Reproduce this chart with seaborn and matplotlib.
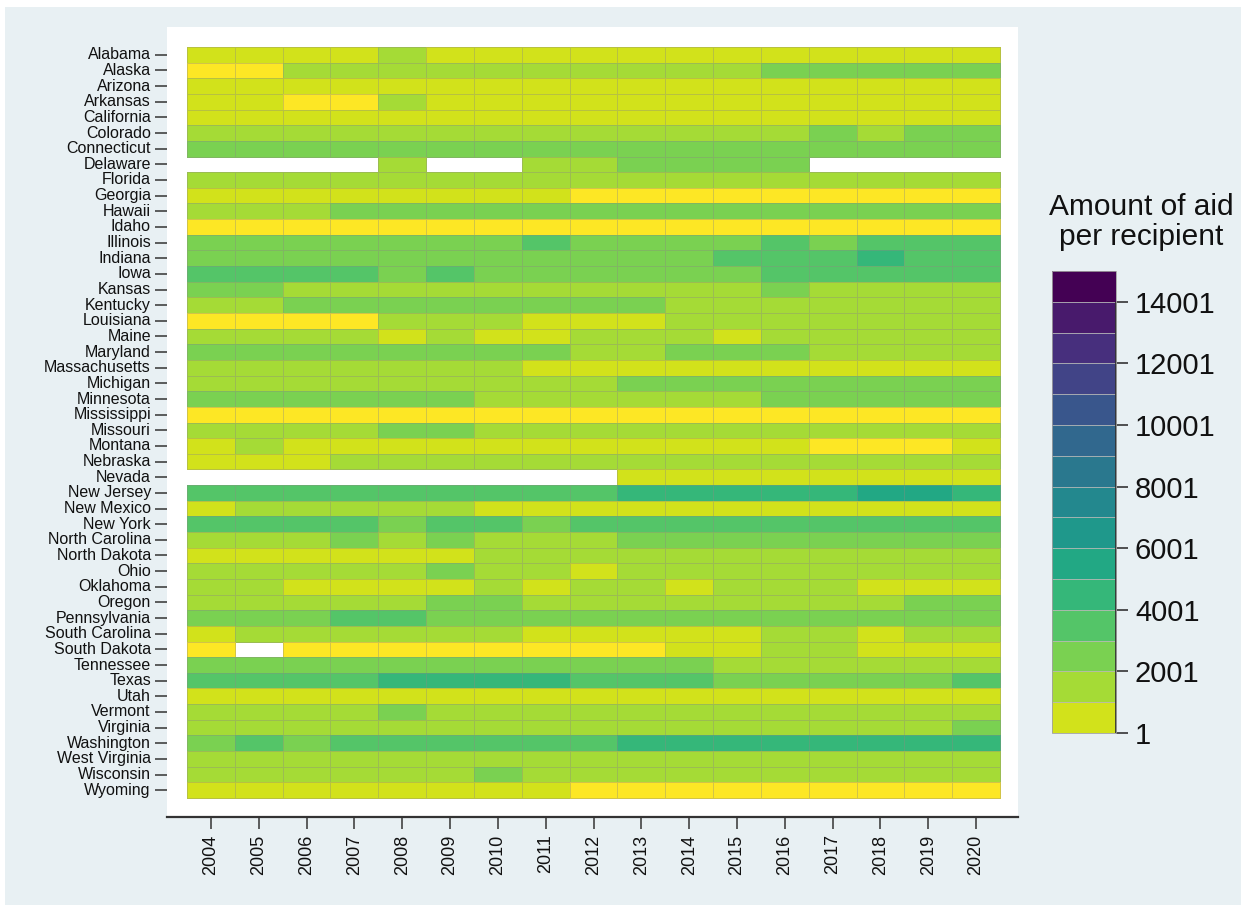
import numpy as np
import pandas as pd
import matplotlib
matplotlib.use("Agg")
import matplotlib.pyplot as plt
import matplotlib.patches as mpatches
from matplotlib.colors import ListedColormap, BoundaryNorm
from matplotlib.cm import ScalarMappable
from matplotlib.ticker import NullLocator
import seaborn as sns

# ---------------- data (NaN = no data) ----------------
years = [2004, 2005, 2006, 2007, 2008, 2009, 2010, 2011, 2012,
         2013, 2014, 2015, 2016, 2017, 2018, 2019, 2020]

states = ["Alabama", "Alaska", "Arizona", "Arkansas", "California", "Colorado",
          "Connecticut", "Delaware", "Florida", "Georgia", "Hawaii", "Idaho",
          "Illinois", "Indiana", "Iowa", "Kansas", "Kentucky", "Louisiana",
          "Maine", "Maryland", "Massachusetts", "Michigan", "Minnesota",
          "Mississippi", "Missouri", "Montana", "Nebraska", "Nevada",
          "New Jersey", "New Mexico", "New York", "North Carolina",
          "North Dakota", "Ohio", "Oklahoma", "Oregon", "Pennsylvania",
          "South Carolina", "South Dakota", "Tennessee", "Texas", "Utah",
          "Vermont", "Virginia", "Washington", "West Virginia", "Wisconsin",
          "Wyoming"]

N = np.nan
aid_per_recipient = [
    [600, 600, 600, 600, 1500, 600, 600, 600, 600, 600, 600, 600, 600, 600, 600, 600, 600],        # Alabama
    [0, 0, 1500, 1500, 1500, 1500, 1500, 1500, 1500, 1500, 1500, 1500, 2500, 2500, 2500, 2500, 2500],  # Alaska
    [600, 600, 600, 600, 600, 600, 600, 600, 600, 600, 600, 600, 600, 600, 600, 600, 600],         # Arizona
    [600, 600, 0, 0, 1500, 600, 600, 600, 600, 600, 600, 600, 600, 600, 600, 600, 600],            # Arkansas
    [600, 600, 600, 600, 600, 600, 600, 600, 600, 600, 600, 600, 600, 600, 600, 600, 600],         # California
    [1500, 1500, 1500, 1500, 1500, 1500, 1500, 1500, 1500, 1500, 1500, 1500, 1500, 2500, 1500, 2500, 2500],  # Colorado
    [2500, 2500, 2500, 2500, 2500, 2500, 2500, 2500, 2500, 2500, 2500, 2500, 2500, 2500, 2500, 2500, 2500],  # Connecticut
    [N, N, N, N, 1500, N, N, 1500, 1500, 2500, 2500, 2500, 2500, N, N, N, N],                       # Delaware
    [1500, 1500, 1500, 1500, 1500, 1500, 1500, 1500, 1500, 1500, 1500, 1500, 1500, 1500, 1500, 1500, 1500],  # Florida
    [600, 600, 600, 600, 600, 600, 600, 600, 0, 0, 0, 0, 0, 0, 0, 0, 0],                           # Georgia
    [1500, 1500, 1500, 2500, 2500, 2500, 2500, 2500, 2500, 2500, 2500, 2500, 2500, 2500, 2500, 2500, 2500],  # Hawaii
    [0, 0, 0, 0, 0, 0, 0, 0, 0, 0, 0, 0, 0, 0, 0, 0, 0],                                           # Idaho
    [2500, 2500, 2500, 2500, 2500, 2500, 2500, 3500, 2500, 2500, 2500, 2500, 3500, 2500, 3500, 3500, 3500],  # Illinois
    [2500, 2500, 2500, 2500, 2500, 2500, 2500, 2500, 2500, 2500, 2500, 3500, 3500, 3500, 4500, 3500, 3500],  # Indiana
    [3500, 3500, 3500, 3500, 2500, 3500, 2500, 2500, 2500, 2500, 2500, 2500, 3500, 3500, 3500, 3500, 3500],  # Iowa
    [2500, 2500, 1500, 1500, 1500, 1500, 1500, 1500, 1500, 1500, 1500, 1500, 2500, 1500, 1500, 1500, 1500],  # Kansas
    [1500, 1500, 2500, 2500, 2500, 2500, 2500, 2500, 2500, 2500, 1500, 1500, 1500, 1500, 1500, 1500, 1500],  # Kentucky
    [0, 0, 0, 0, 1500, 1500, 1500, 600, 600, 600, 1500, 1500, 1500, 1500, 1500, 1500, 1500],       # Louisiana
    [1500, 1500, 1500, 1500, 600, 1500, 600, 600, 1500, 1500, 1500, 600, 1500, 1500, 1500, 1500, 1500],  # Maine
    [2500, 2500, 2500, 2500, 2500, 2500, 2500, 2500, 1500, 1500, 2500, 2500, 2500, 1500, 1500, 1500, 1500],  # Maryland
    [1500, 1500, 1500, 1500, 1500, 1500, 1500, 600, 600, 600, 600, 600, 600, 600, 600, 600, 600],  # Massachusetts
    [1500, 1500, 1500, 1500, 1500, 1500, 1500, 1500, 1500, 2500, 2500, 2500, 2500, 2500, 2500, 2500, 2500],  # Michigan
    [2500, 2500, 2500, 2500, 2500, 2500, 1500, 1500, 1500, 1500, 1500, 1500, 2500, 2500, 2500, 2500, 2500],  # Minnesota
    [0, 0, 0, 0, 0, 0, 0, 0, 0, 0, 0, 0, 0, 0, 0, 0, 0],                                           # Mississippi
    [1500, 1500, 1500, 1500, 2500, 2500, 1500, 1500, 1500, 1500, 1500, 1500, 1500, 1500, 1500, 1500, 1500],  # Missouri
    [600, 1500, 600, 600, 600, 600, 600, 600, 600, 600, 600, 600, 600, 0, 0, 0, 600],              # Montana
    [600, 600, 600, 1500, 1500, 1500, 1500, 1500, 1500, 1500, 1500, 1500, 1500, 1500, 1500, 1500, 1500],  # Nebraska
    [N, N, N, N, N, N, N, N, N, 600, 600, 600, 600, 600, 600, 600, 600],                            # Nevada
    [3500, 3500, 3500, 3500, 3500, 3500, 3500, 3500, 3500, 4500, 4500, 4500, 4500, 4500, 5500, 5500, 4500],  # New Jersey
    [600, 1500, 1500, 1500, 1500, 1500, 600, 600, 600, 600, 600, 600, 600, 600, 600, 600, 600],    # New Mexico
    [3500, 3500, 3500, 3500, 2500, 3500, 3500, 2500, 3500, 3500, 3500, 3500, 3500, 3500, 3500, 3500, 3500],  # New York
    [1500, 1500, 1500, 2500, 1500, 2500, 1500, 1500, 1500, 2500, 2500, 2500, 2500, 2500, 2500, 2500, 2500],  # North Carolina
    [600, 600, 600, 600, 600, 600, 1500, 1500, 1500, 1500, 1500, 1500, 1500, 1500, 1500, 1500, 1500],  # North Dakota
    [1500, 1500, 1500, 1500, 1500, 2500, 1500, 1500, 600, 1500, 1500, 1500, 1500, 1500, 1500, 1500, 1500],  # Ohio
    [1500, 1500, 600, 600, 600, 600, 1500, 600, 1500, 1500, 600, 1500, 1500, 1500, 600, 600, 600],  # Oklahoma
    [1500, 1500, 1500, 1500, 1500, 2500, 2500, 1500, 1500, 1500, 1500, 1500, 1500, 1500, 1500, 2500, 2500],  # Oregon
    [2500, 2500, 2500, 3500, 3500, 2500, 2500, 2500, 2500, 2500, 2500, 2500, 2500, 2500, 2500, 2500, 2500],  # Pennsylvania
    [600, 1500, 1500, 1500, 1500, 1500, 1500, 600, 600, 600, 600, 600, 1500, 1500, 600, 1500, 1500],  # South Carolina
    [0, N, 0, 0, 0, 0, 0, 0, 0, 0, 600, 600, 1500, 1500, 600, 600, 600],                           # South Dakota
    [2500, 2500, 2500, 2500, 2500, 2500, 2500, 2500, 2500, 2500, 2500, 1500, 1500, 1500, 1500, 1500, 1500],  # Tennessee
    [3500, 3500, 3500, 3500, 4500, 4500, 4500, 4500, 3500, 3500, 3500, 2500, 2500, 2500, 2500, 2500, 3500],  # Texas
    [600, 600, 600, 600, 600, 600, 600, 600, 600, 600, 600, 600, 600, 600, 600, 600, 600],         # Utah
    [1500, 1500, 1500, 1500, 2500, 1500, 1500, 1500, 1500, 1500, 1500, 1500, 1500, 1500, 1500, 1500, 1500],  # Vermont
    [1500, 1500, 1500, 1500, 1500, 1500, 1500, 1500, 1500, 1500, 1500, 1500, 1500, 1500, 1500, 1500, 2500],  # Virginia
    [2500, 3500, 2500, 3500, 3500, 3500, 3500, 3500, 3500, 4500, 4500, 4500, 4500, 4500, 4500, 4500, 4500],  # Washington
    [1500, 1500, 1500, 1500, 1500, 1500, 1500, 1500, 1500, 1500, 1500, 1500, 1500, 1500, 1500, 1500, 1500],  # West Virginia
    [1500, 1500, 1500, 1500, 1500, 1500, 2500, 1500, 1500, 1500, 1500, 1500, 1500, 1500, 1500, 1500, 1500],  # Wisconsin
    [600, 600, 600, 600, 600, 600, 600, 600, 0, 0, 0, 0, 0, 0, 0, 0, 0],                           # Wyoming
]

cbar_ticks = [1, 2001, 4001, 6001, 8001, 10001, 12001, 14001]
cbar_title = "Amount of aid\nper recipient"

# ---------------- styling ----------------
sns.set_theme(style="white")
plt.rcParams['font.family'] = ['Liberation Sans', 'DejaVu Sans']

W, H = 1246, 911
fig = plt.figure(figsize=(W / 100, H / 100), dpi=100)
fig.patch.set_facecolor('white')
fig.patches.append(mpatches.Rectangle((5 / W, 1 - 905 / H), 1236 / W, 898 / H,
                                      transform=fig.transFigure, facecolor='#e8f0f3',
                                      edgecolor='none', zorder=-10))

# colour scale: 16 viridis steps, brightest for values below 1
vir = plt.get_cmap('viridis', 16)
colors = [vir(i) for i in range(16)][::-1]
cmap = ListedColormap(colors)
bounds = [-1000, 1] + [1 + 1000 * k for k in range(1, 16)]
norm = BoundaryNorm(bounds, cmap.N)

df = pd.DataFrame(aid_per_recipient, index=states, columns=years)
nrows, ncols = df.shape

ax = fig.add_axes([167 / W, 1 - 817 / H, (1018 - 167) / W, (817 - 27) / H])
ax.set_facecolor('white')
grid_rgba = (0.55, 0.55, 0.5, 0.38)
sns.heatmap(df, ax=ax, cmap=cmap, norm=norm, cbar=False,
            linewidths=0.65, linecolor=grid_rgba)

# no outlines around empty (missing) cells
mesh = ax.collections[0]
missing = df.isna().values.ravel()
edge = np.array([grid_rgba] * missing.size)
edge[missing] = (1, 1, 1, 0)
mesh.set_edgecolors(edge)

cw = (1000 - 187) / float(ncols)
rh = (798 - 47) / float(nrows)
ax.set_xlim(-20 / cw, ncols + 18 / cw)
ax.set_ylim(nrows + 19 / rh, -20 / rh)

for s in ['top', 'right', 'left']:
    ax.spines[s].set_visible(False)
ax.spines['bottom'].set_visible(True)
ax.spines['bottom'].set_color('#333333')
ax.spines['bottom'].set_linewidth(1.6)

ax.set_xlabel('')
ax.set_ylabel('')
ax.set_xticks(np.arange(ncols) + 0.5)
ax.set_xticklabels([str(y) for y in years], rotation=90, fontsize=13, color='#111111')
ax.set_yticks(np.arange(nrows) + 0.5)
ax.set_yticklabels(states, rotation=0, fontsize=11.5, color='#111111')
ax.tick_params(axis='x', bottom=True, direction='out', length=8.6, width=1.1,
               color='#333333', pad=4)
ax.tick_params(axis='y', left=True, direction='out', length=8.6, width=1.1,
               color='#333333', pad=3)

# colour bar (values from 1 to 15001)
cmap15 = ListedColormap(colors[1:])
norm15 = BoundaryNorm([1 + 1000 * k for k in range(16)], 15)
cax = fig.add_axes([1052 / W, 1 - 733 / H, (1116 - 1052) / W, (733 - 271) / H])
cb = fig.colorbar(ScalarMappable(norm=norm15, cmap=cmap15), cax=cax,
                  ticks=cbar_ticks, drawedges=True)
cb.dividers.set_color('#b8b8b8')
cb.dividers.set_linewidth(0.6)
cb.outline.set_edgecolor('#a0a0a0')
cb.outline.set_linewidth(0.6)
cb.set_ticklabels([str(t) for t in cbar_ticks])
cax.yaxis.set_minor_locator(NullLocator())
cax.tick_params(which='minor', length=0)
cax.tick_params(labelsize=21, length=8.6, width=1.2, color='#333333', direction='out',
                pad=5, labelcolor='#111111')
cax.plot([1, 1], [1, 14001], transform=cax.get_yaxis_transform(), color='#333333',
         lw=1.3, clip_on=False, solid_capstyle='butt')
fig.text(1141 / W, 1 - 222 / H, cbar_title, ha='center', va='center', fontsize=21.5,
         linespacing=1.05, color='#111111')

fig.savefig('out.png', dpi=100, facecolor=fig.get_facecolor())
